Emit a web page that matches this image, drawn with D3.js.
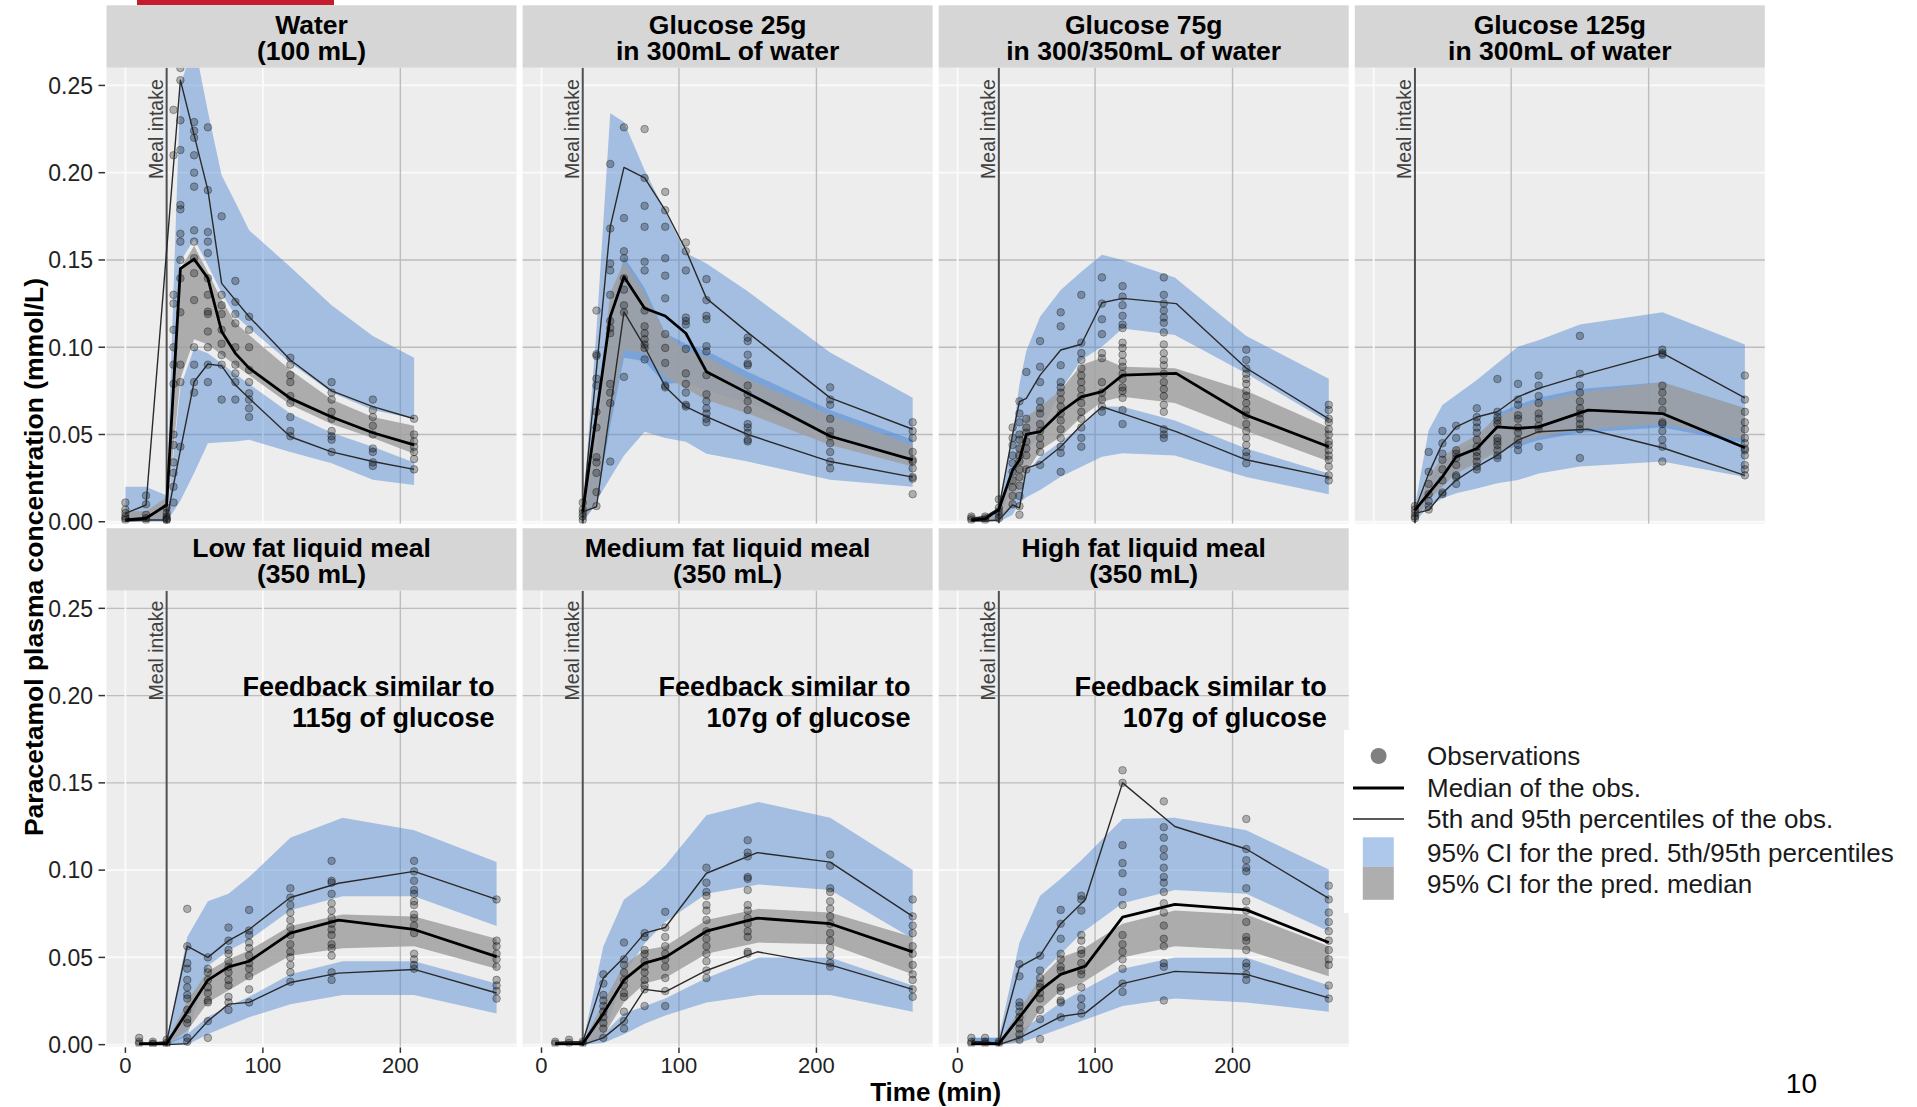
<!DOCTYPE html>
<html>
<head>
<meta charset="utf-8">
<script src="https://cdn.jsdelivr.net/npm/d3@7"></script>
<style>
  html, body { margin: 0; padding: 0; background: #fff; }
  svg { display: block; font-family: "Liberation Sans", Arial, Helvetica, sans-serif; }
</style>
</head>
<body>
<svg id="chart" width="1917" height="1107"></svg>
<script>
// ---------------------------------------------------------------------------
// Visual predictive checks of paracetamol plasma concentration, one panel per
// meal condition. Times in minutes, concentrations in mmol/L.
// ---------------------------------------------------------------------------

const panelTitles = [
  ["Water", "(100 mL)"],
  ["Glucose 25g", "in 300mL of water"],
  ["Glucose 75g", "in 300/350mL of water"],
  ["Glucose 125g", "in 300mL of water"],
  ["Low fat liquid meal", "(350 mL)"],
  ["Medium fat liquid meal", "(350 mL)"],
  ["High fat liquid meal", "(350 mL)"]
];

const panelNotes = [
  null, null, null, null,
  ["Feedback similar to", "115g of glucose"],
  ["Feedback similar to", "107g of glucose"],
  ["Feedback similar to", "107g of glucose"]
];

const mealTime = 30;
const mealLabel = "Meal intake";
const xTicks = [0, 100, 200];
const yTicks = [0, 0.05, 0.10, 0.15, 0.20, 0.25];
const yTickLabels = ["0.00", "0.05", "0.10", "0.15", "0.20", "0.25"];
const xDomain = [-13.75, 284.5];
const yDomain = [-0.001, 0.2601];
const xTitle = "Time (min)";
const yTitle = "Paracetamol plasma concentration (mmol/L)";
const legendLabels = [
  "Observations",
  "Median of the obs.",
  "5th and 95th percentiles of the obs.",
  "95% CI for the pred. 5th/95th percentiles",
  "95% CI for the pred. median"
];
const pageNumber = "10";

// ---- simulated prediction intervals (ribbons) -----------------------------
const bandTimes = [
  [0, 15, 30, 40, 50, 60, 70, 80, 90, 120, 150, 180, 210],
  [30, 40, 50, 60, 75, 90, 105, 120, 150, 210, 270],
  [10, 20, 30, 40, 45, 50, 60, 75, 90, 105, 120, 158, 210, 270],
  [30, 40, 50, 60, 75, 90, 105, 120, 150, 210, 270],
  [10, 20, 30, 45, 60, 75, 90, 120, 158, 210, 270],
  [10, 20, 30, 45, 60, 75, 90, 120, 158, 210, 270],
  [10, 20, 30, 45, 60, 75, 90, 120, 158, 210, 270]
];
const p95CiHigh = [
  [0.020, 0.020, 0.015, 0.25, 0.275, 0.235, 0.1986, 0.183, 0.167, 0.146, 0.124, 0.1065, 0.094],
  [0.006, 0.11, 0.234, 0.229, 0.2015, 0.1777, 0.154, 0.148, 0.132, 0.097, 0.071],
  [0.002, 0.003, 0.008, 0.049, 0.079, 0.098, 0.1175, 0.1328, 0.1433, 0.153, 0.150, 0.140, 0.1065, 0.082],
  [0.009, 0.0525, 0.0669, 0.0726, 0.0812, 0.0908, 0.1003, 0.104, 0.113, 0.120, 0.1016],
  [0.001, 0.001, 0.001, 0.0617, 0.0821, 0.0864, 0.096, 0.1186, 0.130, 0.1229, 0.1046],
  [0.001, 0.001, 0.001, 0.0564, 0.0832, 0.0918, 0.1025, 0.1314, 0.139, 0.130, 0.100],
  [0.004, 0.004, 0.004, 0.0585, 0.0853, 0.095, 0.1057, 0.1293, 0.130, 0.1229, 0.1003]
];
const p95CiLow = [
  [0.0, 0.0, 0.0, 0.149, 0.162, 0.147, 0.131, 0.118, 0.111, 0.091, 0.074, 0.064, 0.059],
  [0.0, 0.01, 0.055, 0.094, 0.092, 0.079, 0.080, 0.075, 0.068, 0.050, 0.036],
  [0, 0, 0.002, 0.02, 0.03, 0.04, 0.05, 0.0755, 0.0927, 0.1003, 0.1108, 0.107, 0.085, 0.057],
  [0.0, 0.014, 0.022, 0.029, 0.035, 0.041, 0.043, 0.0467, 0.051, 0.054, 0.045],
  [0, 0, 0, 0.005, 0.045, 0.054, 0.060, 0.077, 0.085, 0.085, 0.068],
  [0, 0, 0, 0.004, 0.04, 0.058, 0.0703, 0.0864, 0.0918, 0.0886, 0.0607],
  [0, 0, 0, 0.004, 0.04, 0.052, 0.0639, 0.081, 0.0886, 0.0864, 0.065]
];
const medCiHigh = [
  [0.006, 0.006, 0.014, 0.145, 0.158, 0.143, 0.127, 0.114, 0.107, 0.087, 0.070, 0.060, 0.055],
  [0.006, 0.06, 0.131, 0.149, 0.131, 0.108, 0.0984, 0.0946, 0.082, 0.061, 0.044],
  [0.002, 0.002, 0.004, 0.03, 0.05, 0.0602, 0.0659, 0.0755, 0.0898, 0.094, 0.0888, 0.088, 0.075, 0.054],
  [0.004, 0.0258, 0.0372, 0.043, 0.0497, 0.060, 0.065, 0.0688, 0.074, 0.080, 0.065],
  [0.001, 0.001, 0.001, 0.025, 0.042, 0.049, 0.054, 0.068, 0.0746, 0.0735, 0.0607],
  [0.001, 0.001, 0.001, 0.0242, 0.0457, 0.0542, 0.0564, 0.0714, 0.0778, 0.0757, 0.0617],
  [0.001, 0.001, 0.001, 0.02, 0.0382, 0.05, 0.0542, 0.0693, 0.0768, 0.0746, 0.0564]
];
const medCiLow = [
  [0.0, 0.0, 0.002, 0.082, 0.1045, 0.1015, 0.0957, 0.0897, 0.084, 0.067, 0.056, 0.048, 0.039],
  [0.0, 0.012, 0.06, 0.0984, 0.0965, 0.083, 0.0764, 0.0697, 0.062, 0.044, 0.0316],
  [0, 0, 0.001, 0.01, 0.02, 0.028, 0.041, 0.0487, 0.060, 0.0688, 0.0716, 0.068, 0.052, 0.0345],
  [0.0, 0.0124, 0.020, 0.0277, 0.0335, 0.040, 0.0449, 0.0487, 0.053, 0.056, 0.047],
  [0, 0, 0, 0.008, 0.0242, 0.031, 0.038, 0.051, 0.0553, 0.0564, 0.0435],
  [0, 0, 0, 0.005, 0.0242, 0.035, 0.0382, 0.0521, 0.0585, 0.0575, 0.0403],
  [0, 0, 0, 0.002, 0.02, 0.0307, 0.035, 0.050, 0.0564, 0.0542, 0.0392]
];
const p5CiHigh = [
  [0.0, 0.0, 0.0, 0.077, 0.0995, 0.0965, 0.0907, 0.0847, 0.079, 0.062, 0.051, 0.043, 0.034],
  [0.006, 0.04, 0.12, 0.152, 0.134, 0.108, 0.102, 0.098, 0.086, 0.064, 0.047],
  [0.001, 0.001, 0.002, 0.012, 0.02, 0.028, 0.0373, 0.0458, 0.0544, 0.066, 0.0659, 0.058, 0.042, 0.0276],
  [0.004, 0.023, 0.034, 0.040, 0.047, 0.062, 0.067, 0.071, 0.076, 0.080, 0.065],
  [0.001, 0.001, 0.001, 0.006, 0.016, 0.022, 0.0274, 0.0403, 0.0478, 0.0478, 0.035],
  [0.001, 0.001, 0.001, 0.006, 0.018, 0.022, 0.0264, 0.0382, 0.050, 0.050, 0.0339],
  [0.004, 0.004, 0.004, 0.008, 0.0157, 0.0242, 0.0307, 0.0435, 0.050, 0.050, 0.0339]
];
const p5CiLow = [
  [0.0, 0.0, 0.0, 0.012, 0.028, 0.045, 0.0455, 0.046, 0.047, 0.040, 0.0335, 0.024, 0.021],
  [0.0, 0.012, 0.025, 0.038, 0.0516, 0.048, 0.0458, 0.039, 0.0345, 0.024, 0.02],
  [0, 0, 0, 0.004, 0.0107, 0.014, 0.0182, 0.0258, 0.0315, 0.0372, 0.0392, 0.038, 0.0256, 0.0158],
  [0.0, 0.0086, 0.0134, 0.0163, 0.0191, 0.022, 0.0239, 0.0277, 0.0316, 0.0345, 0.0256],
  [0, 0, 0, 0, 0.006, 0.011, 0.0157, 0.0232, 0.0285, 0.0285, 0.0178],
  [0, 0, 0, 0.001, 0.006, 0.012, 0.0167, 0.0242, 0.0285, 0.0285, 0.0189],
  [0, 0, 0, 0.001, 0.005, 0.0092, 0.0135, 0.0221, 0.0264, 0.0242, 0.0189]
];

// ---- observed percentiles (null = no vertex at that time) -----------------
const lineTimes = [
  [0, 15, 30, 40, 50, 60, 70, 80, 90, 120, 150, 180, 210],
  [30, 40, 50, 60, 75, 90, 105, 120, 150, 210, 270],
  [10, 20, 30, 40, 45, 50, 60, 75, 90, 105, 120, 159, 210, 270],
  [30, 40, 50, 60, 75, 90, 105, 120, 156, 210, 270],
  [10, 20, 30, 45, 60, 75, 90, 120, 155, 210, 270],
  [10, 20, 30, 45, 60, 75, 90, 120, 157, 210, 270],
  [10, 20, 30, 45, 60, 75, 93, 120, 158, 210, 270]
];
const obsP95 = [
  [0.0048, 0.0096, null, 0.253, null, 0.19, 0.1366, 0.127, 0.1175, 0.0927, 0.075, 0.066, 0.059],
  [0.0057, null, 0.169, 0.203, 0.197, 0.1786, 0.1557, 0.128, 0.1085, 0.071, 0.053],
  [0.002, 0.003, 0.0077, 0.05, 0.0688, 0.0707, 0.084, 0.0984, 0.1017, 0.1255, 0.128, 0.125, 0.088, 0.059],
  [0.0067, 0.0277, 0.0449, 0.0544, 0.060, 0.063, 0.0716, 0.0764, 0.085, 0.0966, 0.071],
  [0.0006, 0.001, 0.0017, 0.0564, 0.050, 0.0596, 0.066, 0.0843, 0.0925, 0.0993, 0.0832],
  [0.0013, 0.0017, 0.0017, 0.0382, 0.050, 0.0639, 0.0671, 0.0982, 0.110, 0.1046, 0.0735],
  [0.0017, 0.0017, 0.0006, 0.0446, 0.051, 0.0693, 0.0832, 0.150, 0.125, 0.1121, 0.0838]
];
const obsMedian = [
  [0.001, 0.002, 0.0096, 0.145, 0.1505, 0.1395, 0.109, 0.0965, 0.088, 0.0707, 0.060, 0.051, 0.044],
  [0.0057, null, 0.1175, 0.1404, 0.1223, 0.1179, 0.108, 0.086, 0.0737, 0.049, 0.0355],
  [0.001, 0.0017, 0.007, 0.0296, 0.0354, 0.050, 0.0516, 0.063, 0.0716, 0.0745, 0.084, 0.085, 0.061, 0.043],
  [0.0067, 0.0163, 0.0258, 0.0372, 0.042, 0.0544, 0.0535, 0.0544, 0.064, 0.062, 0.0424],
  [0.0006, 0.0006, 0.0006, 0.0189, 0.037, 0.0446, 0.0478, 0.0639, 0.0714, 0.066, 0.0504],
  [0.0006, 0.0006, 0.0006, 0.0178, 0.0371, 0.0467, 0.050, 0.065, 0.0725, 0.0693, 0.0532],
  [0.0006, 0.0006, 0.0006, 0.0157, 0.0311, 0.0403, 0.045, 0.0731, 0.0804, 0.0772, 0.0585]
];
const obsP5 = [
  [0.0006, 0.001, 0.001, 0.041, 0.0802, 0.0904, 0.0893, 0.0783, 0.0707, 0.0487, 0.040, 0.0345, 0.030],
  [0.0057, 0.0086, null, 0.1203, 0.1003, 0.0774, 0.0659, 0.0602, 0.050, 0.0345, 0.0256],
  [0.0005, 0.0005, 0.001, 0.0096, 0.0079, 0.0306, 0.0335, 0.043, 0.0554, 0.0659, 0.062, 0.0516, 0.0355, 0.0256],
  [0.0048, 0.0067, 0.0163, 0.0239, 0.0315, 0.0382, 0.0468, 0.0516, 0.053, 0.0424, 0.0266],
  [0.0, 0.0, 0.0, 0.0006, 0.0135, 0.0232, 0.0242, 0.0356, 0.041, 0.0431, 0.0296],
  [0.0, 0.0, 0.0, 0.0039, 0.0135, 0.0317, 0.0302, 0.0425, 0.0532, 0.0457, 0.0317],
  [0.0, 0.0, 0.0, 0.0039, 0.0099, 0.0161, 0.0182, 0.035, 0.042, 0.0403, 0.0268]
];

// ---- individual observations: sampling times and values per time ----------
const obsTimes = [
  [0, 15, 30, 35, 40, 50, 60, 70, 80, 90, 120, 150, 180, 210],
  [30, 40, 50, 60, 75, 90, 105, 120, 150, 210, 270],
  [10, 20, 30, 40, 45, 50, 60, 75, 90, 105, 120, 150, 210, 270],
  [30, 40, 50, 60, 75, 90, 105, 120, 150, 210, 270],
  [10, 20, 30, 45, 60, 75, 90, 120, 150, 210, 270],
  [10, 20, 30, 45, 60, 75, 90, 120, 150, 210, 270],
  [10, 20, 30, 45, 60, 75, 90, 120, 150, 210, 270]
];
const obsValues = [
  [ // Water
    [0.011, 0.007, 0.005, 0.003, 0.002, 0.001],
    [0.015, 0.010, 0.004, 0.002, 0.001],
    [0.008, 0.005, 0.003, 0.002, 0.001, 0.001],
    [0.236, 0.21, 0.13, 0.125, 0.11, 0.10, 0.09, 0.079, 0.05, 0.044, 0.034, 0.028, 0.02, 0.011],
    [0.26, 0.253, 0.23, 0.213, 0.1815, 0.179, 0.165, 0.1605, 0.15, 0.1395, 0.12, 0.09, 0.08, 0.043],
    [0.229, 0.224, 0.22, 0.21, 0.20, 0.192, 0.167, 0.1605, 0.151, 0.1424, 0.127, 0.10, 0.09, 0.08, 0.074],
    [0.226, 0.19, 0.166, 0.1605, 0.154, 0.1395, 0.13, 0.1204, 0.119, 0.109, 0.10, 0.09, 0.08],
    [0.175, 0.13, 0.124, 0.119, 0.11, 0.102, 0.0955, 0.09, 0.07],
    [0.138, 0.126, 0.119, 0.1137, 0.10, 0.09, 0.085, 0.08, 0.07],
    [0.1175, 0.11, 0.10, 0.087, 0.08, 0.0736, 0.07, 0.065, 0.06],
    [0.094, 0.09, 0.084, 0.08, 0.072, 0.068, 0.06, 0.052, 0.049],
    [0.08, 0.074, 0.07, 0.063, 0.059, 0.052, 0.049, 0.047, 0.04],
    [0.07, 0.064, 0.06, 0.055, 0.05, 0.042, 0.04, 0.034, 0.032],
    [0.059, 0.05, 0.046, 0.043, 0.04, 0.036, 0.03]
  ],
  [ // Glucose 25g
    [0.011, 0.007, 0.005, 0.003, 0.001],
    [0.121, 0.096, 0.095, 0.082, 0.078, 0.063, 0.054, 0.037, 0.034, 0.028, 0.017, 0.009],
    [0.205, 0.168, 0.148, 0.144, 0.130, 0.115, 0.111, 0.108, 0.079, 0.074, 0.068, 0.0345],
    [0.226, 0.174, 0.155, 0.151, 0.1395, 0.133, 0.124, 0.120, 0.083],
    [0.225, 0.197, 0.181, 0.169, 0.149, 0.144, 0.121, 0.112, 0.108, 0.1045, 0.1016, 0.0996, 0.093],
    [0.189, 0.1785, 0.169, 0.151, 0.141, 0.128, 0.1075, 0.0996, 0.091, 0.078, 0.077],
    [0.16, 0.155, 0.144, 0.117, 0.115, 0.113, 0.099, 0.085, 0.079, 0.074, 0.067, 0.066],
    [0.139, 0.127, 0.118, 0.116, 0.1006, 0.0976, 0.084, 0.073, 0.069, 0.065, 0.062, 0.059, 0.057],
    [0.1055, 0.1035, 0.0957, 0.0907, 0.0897, 0.078, 0.073, 0.069, 0.064, 0.056, 0.054, 0.051, 0.047, 0.046],
    [0.077, 0.07, 0.067, 0.059, 0.052, 0.049, 0.045, 0.040, 0.0345, 0.0306],
    [0.057, 0.052, 0.048, 0.040, 0.0355, 0.0345, 0.0306, 0.0256, 0.0247, 0.0158]
  ],
  [ // Glucose 75g
    [0.003, 0.002, 0.001],
    [0.003, 0.002, 0.001],
    [0.0128, 0.008, 0.006, 0.004, 0.002],
    [0.054, 0.048, 0.044, 0.038, 0.0335, 0.0286, 0.0237, 0.0197, 0.0148, 0.01],
    [0.069, 0.062, 0.057, 0.050, 0.047, 0.042, 0.038, 0.0345, 0.030, 0.0256, 0.0207, 0.0148, 0.0089, 0.004],
    [0.0858, 0.059, 0.054, 0.051, 0.046, 0.042, 0.038, 0.030],
    [0.1035, 0.0888, 0.080, 0.069, 0.065, 0.062, 0.056, 0.052, 0.048, 0.044, 0.040, 0.0325],
    [0.120, 0.112, 0.0897, 0.080, 0.077, 0.074, 0.070, 0.066, 0.062, 0.058, 0.053, 0.048, 0.043, 0.0394, 0.0286],
    [0.13, 0.1026, 0.0966, 0.0927, 0.0878, 0.0838, 0.080, 0.076, 0.072, 0.068, 0.063, 0.059, 0.054, 0.048, 0.043],
    [0.14, 0.125, 0.116, 0.1075, 0.0966, 0.0937, 0.080, 0.074, 0.070, 0.066, 0.063],
    [0.135, 0.129, 0.124, 0.118, 0.113, 0.111, 0.1026, 0.0996, 0.0957, 0.0917, 0.0888, 0.0848, 0.0818, 0.077, 0.075, 0.071, 0.064, 0.056],
    [0.14, 0.130, 0.125, 0.121, 0.117, 0.114, 0.1085, 0.1016, 0.0966, 0.0927, 0.0897, 0.0848, 0.080, 0.076, 0.072, 0.067, 0.063, 0.053, 0.050, 0.048],
    [0.0986, 0.0927, 0.0878, 0.0848, 0.0818, 0.079, 0.075, 0.072, 0.068, 0.064, 0.061, 0.056, 0.052, 0.048, 0.044, 0.040, 0.0375, 0.0335],
    [0.067, 0.064, 0.059, 0.057, 0.053, 0.050, 0.046, 0.044, 0.041, 0.038, 0.0355, 0.0316, 0.0266, 0.0237]
  ],
  [ // Glucose 125g
    [0.009, 0.007, 0.005, 0.003, 0.002],
    [0.040, 0.0286, 0.0217, 0.0158, 0.0118, 0.0089, 0.007],
    [0.052, 0.045, 0.039, 0.0355, 0.030, 0.0237, 0.0168, 0.0158],
    [0.055, 0.048, 0.041, 0.039, 0.0365, 0.0325, 0.0266, 0.0256, 0.0217],
    [0.065, 0.060, 0.057, 0.054, 0.051, 0.047, 0.043, 0.040, 0.0375, 0.0345, 0.0316, 0.030],
    [0.0818, 0.063, 0.060, 0.058, 0.056, 0.048, 0.046, 0.044, 0.041, 0.038, 0.0365],
    [0.079, 0.070, 0.067, 0.061, 0.059, 0.054, 0.051, 0.047, 0.044, 0.041],
    [0.0838, 0.078, 0.072, 0.068, 0.062, 0.059, 0.055, 0.053, 0.043],
    [0.1065, 0.0848, 0.078, 0.074, 0.069, 0.065, 0.062, 0.059, 0.056, 0.053, 0.0365],
    [0.0986, 0.0966, 0.0957, 0.078, 0.074, 0.069, 0.064, 0.057, 0.056, 0.052, 0.047, 0.043, 0.0345],
    [0.0838, 0.070, 0.063, 0.057, 0.053, 0.048, 0.045, 0.042, 0.041, 0.038, 0.0325, 0.030, 0.0266]
  ],
  [ // Low fat liquid meal
    [0.0039, 0.0017, 0.0006],
    [0.0017, 0.0006, 0.0002],
    [0.0028, 0.001, 0.0002],
    [0.0778, 0.0564, 0.0467, 0.0435, 0.0371, 0.0328, 0.0285, 0.0264, 0.0199, 0.0146, 0.0124, 0.0039, 0.0017],
    [0.050, 0.0435, 0.0414, 0.0371, 0.0328, 0.0296, 0.0253, 0.0242, 0.0135, 0.0039],
    [0.0671, 0.0596, 0.0542, 0.0521, 0.0478, 0.0446, 0.0414, 0.0371, 0.0339, 0.0274, 0.0242, 0.0199],
    [0.0772, 0.0654, 0.0628, 0.0585, 0.0553, 0.051, 0.0467, 0.0435, 0.0392, 0.0317, 0.0242],
    [0.0896, 0.0843, 0.080, 0.0757, 0.0714, 0.0671, 0.0628, 0.0575, 0.0532, 0.050, 0.0457, 0.0414, 0.036],
    [0.1053, 0.0939, 0.0928, 0.0864, 0.081, 0.0768, 0.0725, 0.0693, 0.066, 0.0628, 0.0575, 0.0553, 0.051, 0.0414, 0.0371],
    [0.1053, 0.0993, 0.0939, 0.0886, 0.0864, 0.0821, 0.080, 0.0746, 0.0725, 0.0682, 0.0639, 0.0521, 0.0489, 0.0457, 0.0435],
    [0.0832, 0.0596, 0.0564, 0.0521, 0.0489, 0.0446, 0.0371, 0.0339, 0.0307, 0.0264]
  ],
  [ // Medium fat liquid meal
    [0.0017, 0.0006],
    [0.0028, 0.001],
    [0.0017, 0.0006],
    [0.0403, 0.035, 0.0285, 0.0253, 0.0221, 0.0189, 0.0157, 0.0124, 0.0092, 0.0039],
    [0.0585, 0.0489, 0.0457, 0.0414, 0.0371, 0.0339, 0.0296, 0.0274, 0.0189, 0.0135, 0.0092],
    [0.0639, 0.0617, 0.0542, 0.0521, 0.0478, 0.0446, 0.0414, 0.0371, 0.0339, 0.0317, 0.0221],
    [0.0761, 0.0671, 0.0617, 0.0564, 0.0521, 0.0489, 0.0446, 0.0382, 0.0307, 0.0221],
    [0.1014, 0.0928, 0.0875, 0.0853, 0.080, 0.0768, 0.0714, 0.065, 0.0607, 0.0564, 0.0521, 0.0478, 0.0425, 0.0382],
    [0.1171, 0.110, 0.1078, 0.0961, 0.095, 0.0886, 0.080, 0.0768, 0.0725, 0.0693, 0.065, 0.0617, 0.0532, 0.0521],
    [0.1089, 0.1025, 0.0896, 0.0875, 0.0821, 0.0778, 0.0735, 0.0693, 0.0639, 0.0596, 0.0553, 0.051, 0.0467, 0.0446],
    [0.0832, 0.0735, 0.0682, 0.0639, 0.0564, 0.0521, 0.0457, 0.0403, 0.0371, 0.0317, 0.0274]
  ],
  [ // High fat liquid meal
    [0.0039, 0.0017, 0.0006],
    [0.0039, 0.0017, 0.0006],
    [0.0017, 0.0006],
    [0.0461, 0.0392, 0.0242, 0.0221, 0.0189, 0.0157, 0.0124, 0.0092, 0.006, 0.0028],
    [0.051, 0.0425, 0.0382, 0.035, 0.0328, 0.0296, 0.0264, 0.0199, 0.0146, 0.0032],
    [0.0772, 0.0693, 0.0607, 0.0521, 0.0489, 0.0446, 0.0425, 0.0328, 0.0307, 0.0253, 0.0242, 0.0157],
    [0.0853, 0.0832, 0.0768, 0.0628, 0.0596, 0.0542, 0.0521, 0.0467, 0.0425, 0.0403, 0.0328, 0.0264, 0.0221, 0.0178],
    [0.1572, 0.150, 0.1143, 0.104, 0.0982, 0.0875, 0.080, 0.0628, 0.0575, 0.0532, 0.0489, 0.0435, 0.035, 0.0302],
    [0.1394, 0.1246, 0.1186, 0.1121, 0.1078, 0.1014, 0.0961, 0.0928, 0.0875, 0.081, 0.0757, 0.0682, 0.0607, 0.0564, 0.0467, 0.0446, 0.0253],
    [0.1293, 0.1121, 0.1057, 0.1014, 0.0993, 0.0896, 0.0821, 0.0768, 0.0703, 0.0617, 0.0596, 0.0542, 0.0467, 0.0446, 0.0403, 0.0371],
    [0.0911, 0.0832, 0.0757, 0.0703, 0.065, 0.0596, 0.0542, 0.0489, 0.0457, 0.0339, 0.0264]
  ]
];

// ---------------------------------------------------------------------------
// Layout
// ---------------------------------------------------------------------------
const svg = d3.select("#chart");
const panelW = 410, stripH = 62.5, plotH = 455.7;
const colX = c => 106.5 + c * 416.1;
const rowY = r => 5.3 + r * 522.9;

const x = d3.scaleLinear().domain(xDomain).range([0, panelW]);
const y = d3.scaleLinear().domain(yDomain).range([plotH, 0]);

const blueFill = "#4a86d0", blueOpacity = 0.45;
const greyFill = "#a0a0a0", greyOpacity = 0.85;
const gridGrey = "#bdbdbd", gridWhite = "#fbfbfb";

// horizontal rules that render grey in each row (others are white)
const greyRowsY = [[0.05, 0.10, 0.15], [0.15, 0.20, 0.25]];

// header bar
svg.append("rect").attr("x", 137).attr("y", 0).attr("width", 197).attr("height", 5.2)
  .attr("fill", "#c31d2e");

const defs = svg.append("defs");

const ribbon = d3.area()
  .x(d => x(d.t)).y0(d => y(d.lo)).y1(d => y(d.hi));
const path = d3.line().x(d => x(d.t)).y(d => y(d.v));

panelTitles.forEach((title, i) => {
  const col = i % 4, row = Math.floor(i / 4);
  const g = svg.append("g").attr("transform", `translate(${colX(col)},${rowY(row)})`);

  // strip
  g.append("rect").attr("width", panelW).attr("height", stripH).attr("fill", "#d6d6d6");
  const st = g.append("text").attr("text-anchor", "middle")
    .attr("font-size", 26.5).attr("font-weight", "bold").attr("fill", "#000");
  st.append("tspan").attr("x", panelW / 2).attr("y", 28.5).text(title[0]);
  st.append("tspan").attr("x", panelW / 2).attr("y", 55).text(title[1]);

  const p = g.append("g").attr("transform", `translate(0,${stripH})`);
  p.append("rect").attr("width", panelW).attr("height", plotH).attr("fill", "#ededed");

  // grid
  yTicks.forEach(v => {
    const grey = greyRowsY[row].includes(v);
    p.append("line").attr("x1", 0).attr("x2", panelW).attr("y1", y(v)).attr("y2", y(v))
      .attr("stroke", grey ? gridGrey : gridWhite).attr("stroke-width", grey ? 1.4 : 1.8);
  });
  xTicks.forEach(v => {
    const grey = v === 200 || (v === 100 && col !== 0);
    p.append("line").attr("y1", 0).attr("y2", plotH).attr("x1", x(v)).attr("x2", x(v))
      .attr("stroke", grey ? gridGrey : gridWhite).attr("stroke-width", grey ? 1.4 : 1.8);
  });

  defs.append("clipPath").attr("id", `clip${i}`)
    .append("rect").attr("width", panelW).attr("height", plotH);
  const c = p.append("g").attr("clip-path", `url(#clip${i})`);

  const bt = bandTimes[i];
  const hiBand = bt.map((t, k) => ({ t, lo: p95CiLow[i][k], hi: p95CiHigh[i][k] }));
  const loBand = bt.map((t, k) => ({ t, lo: p5CiLow[i][k], hi: p5CiHigh[i][k] }));
  const mdBand = bt.map((t, k) => ({ t, lo: medCiLow[i][k], hi: medCiHigh[i][k] }));

  c.append("path").attr("d", ribbon(hiBand)).attr("fill", blueFill).attr("fill-opacity", blueOpacity);
  c.append("path").attr("d", ribbon(loBand)).attr("fill", blueFill).attr("fill-opacity", blueOpacity);
  c.append("path").attr("d", ribbon(mdBand)).attr("fill", greyFill).attr("fill-opacity", greyOpacity);

  // meal intake marker
  c.append("line").attr("x1", x(mealTime)).attr("x2", x(mealTime)).attr("y1", 0).attr("y2", plotH)
    .attr("stroke", "#505050").attr("stroke-width", 2);

  // observations
  const pts = [];
  obsTimes[i].forEach((t, k) => obsValues[i][k].forEach(v => pts.push({ t, v })));
  c.append("g").selectAll("circle").data(pts).join("circle")
    .attr("cx", d => x(d.t)).attr("cy", d => y(d.v)).attr("r", 3.8)
    .attr("fill", "#000").attr("fill-opacity", 0.27)
    .attr("stroke", "#000").attr("stroke-opacity", 0.32).attr("stroke-width", 1);

  // observed percentiles
  const series = vals => lineTimes[i].map((t, k) => ({ t, v: vals[k] })).filter(d => d.v !== null);
  c.append("path").attr("d", path(series(obsP95[i]))).attr("fill", "none")
    .attr("stroke", "#2a2a2a").attr("stroke-width", 1.4).attr("stroke-linejoin", "round");
  c.append("path").attr("d", path(series(obsP5[i]))).attr("fill", "none")
    .attr("stroke", "#2a2a2a").attr("stroke-width", 1.4).attr("stroke-linejoin", "round");
  c.append("path").attr("d", path(series(obsMedian[i]))).attr("fill", "none")
    .attr("stroke", "#000").attr("stroke-width", 2.8).attr("stroke-linejoin", "round");

  // meal intake label
  p.append("text")
    .attr("transform", `translate(${x(mealTime) - 3.5},${row === 0 ? 11.4 : 10}) rotate(-90)`)
    .attr("text-anchor", "end").attr("font-size", 19.5).attr("fill", "#404040")
    .text(mealLabel);

  // annotation
  if (panelNotes[i]) {
    const nt = p.append("text").attr("text-anchor", "end").attr("font-size", 27)
      .attr("font-weight", "bold").attr("fill", "#000");
    nt.append("tspan").attr("x", x(268.5)).attr("y", y(0.20)).text(panelNotes[i][0]);
    nt.append("tspan").attr("x", x(268.5)).attr("y", y(0.20) + 31).text(panelNotes[i][1]);
  }

  // y axis on the first column
  if (col === 0) {
    yTicks.forEach((v, k) => {
      p.append("line").attr("x1", -8).attr("x2", -1.5).attr("y1", y(v)).attr("y2", y(v))
        .attr("stroke", "#333").attr("stroke-width", 1.5);
      p.append("text").attr("x", -13.5).attr("y", y(v)).attr("dy", "0.36em")
        .attr("text-anchor", "end").attr("font-size", 23).attr("fill", "#222")
        .text(yTickLabels[k]);
    });
  }
  // x axis under the bottom row
  if (row === 1) {
    xTicks.forEach(v => {
      p.append("line").attr("x1", x(v)).attr("x2", x(v)).attr("y1", plotH + 1).attr("y2", plotH + 6.5)
        .attr("stroke", "#333").attr("stroke-width", 1.5);
      p.append("text").attr("x", x(v)).attr("y", plotH + 26.5)
        .attr("text-anchor", "middle").attr("font-size", 22).attr("fill", "#222")
        .text(String(v));
    });
  }
});

// axis titles
svg.append("text").attr("x", (colX(0) + colX(3) + panelW) / 2).attr("y", 1100.5)
  .attr("text-anchor", "middle").attr("font-size", 26).attr("font-weight", "bold")
  .text(xTitle);
svg.append("text").attr("transform", "translate(43,557) rotate(-90)")
  .attr("text-anchor", "middle").attr("font-size", 26.5).attr("font-weight", "bold")
  .text(yTitle);

// legend
const lg = svg.append("g");
lg.append("rect").attr("x", 1344).attr("y", 730).attr("width", 573).attr("height", 183).attr("fill", "#fff");
const rowsY = [756, 788, 819, 853, 884];
lg.append("circle").attr("cx", 1378.6).attr("cy", rowsY[0]).attr("r", 8).attr("fill", "#808080");
lg.append("line").attr("x1", 1353).attr("x2", 1404).attr("y1", rowsY[1]).attr("y2", rowsY[1])
  .attr("stroke", "#000").attr("stroke-width", 3.2);
lg.append("line").attr("x1", 1353).attr("x2", 1404).attr("y1", rowsY[2]).attr("y2", rowsY[2])
  .attr("stroke", "#222").attr("stroke-width", 1.6);
lg.append("rect").attr("x", 1362.8).attr("y", 837.3).attr("width", 31).attr("height", 29.5)
  .attr("fill", blueFill).attr("fill-opacity", blueOpacity);
lg.append("rect").attr("x", 1362.8).attr("y", 866.8).attr("width", 31).attr("height", 33)
  .attr("fill", greyFill).attr("fill-opacity", greyOpacity);
legendLabels.forEach((t, k) => {
  lg.append("text").attr("x", 1427).attr("y", rowsY[k]).attr("dy", "0.36em")
    .attr("font-size", 26).attr("fill", "#1a1a1a").text(t);
});

// page number
svg.append("text").attr("x", 1817).attr("y", 1093).attr("text-anchor", "end")
  .attr("font-size", 28).attr("fill", "#000").text(pageNumber);
</script>
</body>
</html>
